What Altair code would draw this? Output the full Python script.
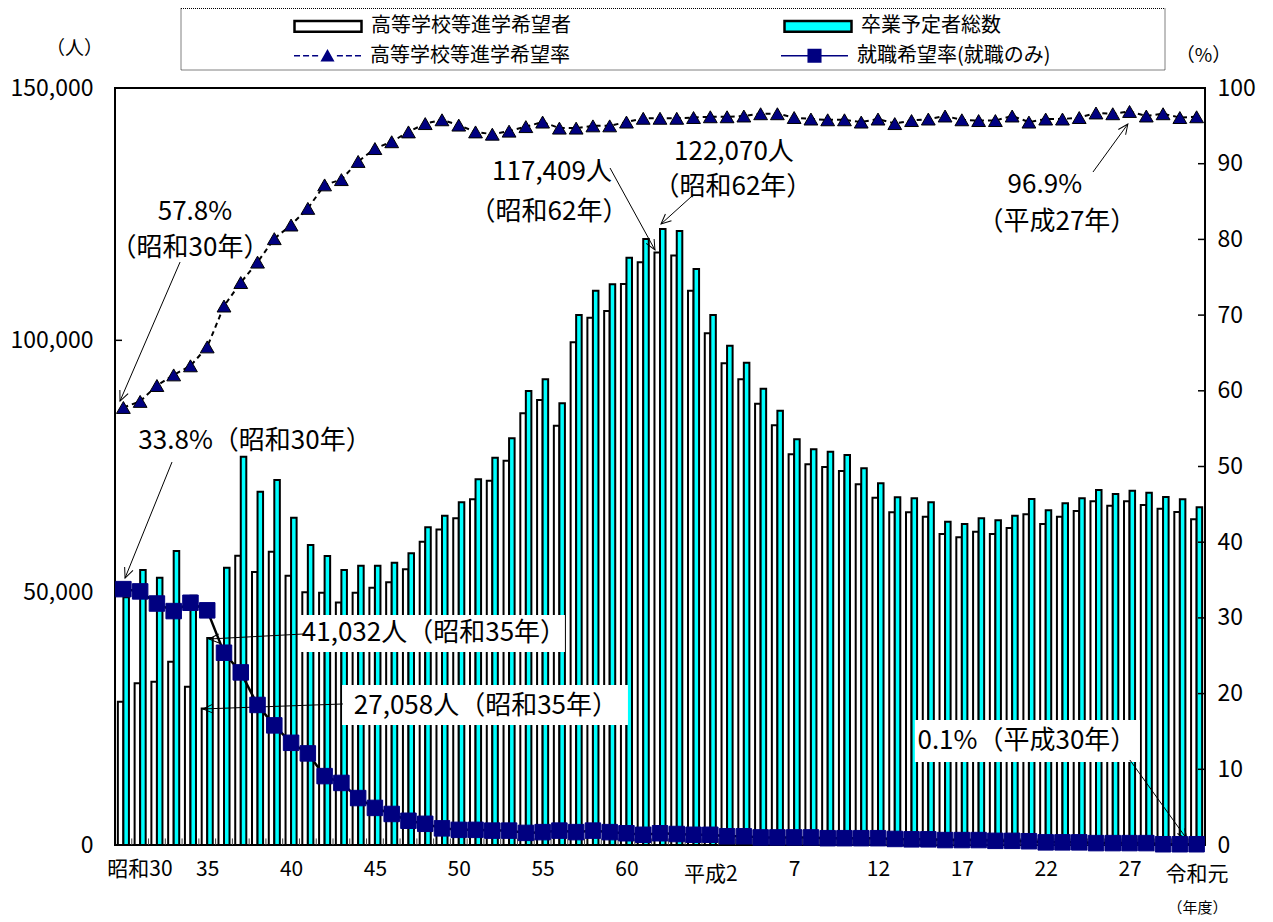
import math
import altair as alt
import pandas as pd

# ---------------- data ----------------
years = list(range(1955, 2020))

hope_counts = [28400, 32040, 32360, 36320, 31370, 27058, 39120, 57330, 54090, 58120,
               53370, 50070, 49990, 48070, 49990, 50980, 52050, 54620, 60100, 62520,
               64740, 68500, 72190, 76150, 85550, 88170, 83060, 99610, 104490, 105810,
               111160, 115460, 117409, 116815, 109840, 101390, 95440, 92280, 87440, 83160,
               77420, 75440, 74900, 74110, 71470, 68810, 65920, 65920, 65050, 61620,
               60970, 62080, 61620, 62820, 65520, 63600, 65050, 66180, 68100, 67230,
               68100, 67370, 66640, 65980, 64540]

grad_totals = [49100, 54490, 52970, 58250, 49400, 41032, 54950, 76940, 70010, 72320,
               64860, 59440, 57270, 54490, 55310, 55350, 55940, 57790, 62950, 65250,
               67910, 72470, 76740, 80580, 89960, 92280, 87520, 105020, 109840, 111100,
               116380, 120070, 122070, 121670, 114130, 105020, 98930, 95570, 90420, 86050,
               80390, 78400, 77940, 77280, 74640, 71670, 68890, 68700, 67910, 64060,
               63600, 64740, 64340, 65250, 68560, 66320, 67710, 68700, 70350, 69550,
               70210, 69810, 68950, 68500, 66920]

hope_rate = [57.8, 58.6, 60.7, 62.1, 63.3, 65.8, 71.2, 74.3, 77.0, 80.1,
             81.9, 84.1, 87.2, 87.9, 90.3, 92.0, 92.9, 94.2, 95.3, 95.8,
             95.1, 94.2, 93.9, 94.3, 94.9, 95.5, 94.7, 94.7, 95.0, 95.0,
             95.5, 96.0, 96.0, 96.0, 96.1, 96.2, 96.2, 96.3, 96.6, 96.6,
             96.1, 95.9, 95.8, 95.8, 95.5, 95.9, 95.3, 95.7, 95.9, 96.3,
             95.8, 95.7, 95.7, 96.3, 95.5, 95.9, 95.9, 96.1, 96.7, 96.6,
             96.9, 96.3, 96.6, 96.1, 96.2]

job_rate = [33.8, 33.5, 31.9, 30.9, 32.0, 31.0, 25.4, 22.8, 18.5, 15.8,
            13.5, 12.1, 9.1, 8.2, 6.2, 4.9, 4.1, 3.2, 2.8, 2.2,
            2.0, 2.0, 1.9, 1.9, 1.6, 1.7, 1.9, 1.7, 1.9, 1.7,
            1.55, 1.35, 1.55, 1.45, 1.35, 1.35, 1.15, 1.15, 1.0, 1.0,
            1.0, 1.0, 0.9, 0.9, 0.9, 0.9, 0.8, 0.75, 0.75, 0.65,
            0.65, 0.65, 0.55, 0.55, 0.5, 0.35, 0.35, 0.35, 0.25, 0.25,
            0.25, 0.25, 0.1, 0.1, 0.1]

tick_years = [1955, 1960, 1965, 1970, 1975, 1980, 1985, 1990, 1995, 2000, 2005, 2010, 2015, 2019]
tick_labels = ["昭和30", "35", "40", "45", "50", "55", "60", "平成2", "7", "12", "17", "22", "27", "令和元"]

left_ticks = [0, 50000, 100000, 150000]
right_ticks = [0, 10, 20, 30, 40, 50, 60, 70, 80, 90, 100]

bar_series = ["高等学校等進学希望者", "卒業予定者総数"]
line_series = ["高等学校等進学希望率", "就職希望率(就職のみ)"]

# annotations (year, percent on right scale)
ann_text = ["57.8%", "（昭和30年）", "33.8%（昭和30年）", "117,409人", "（昭和62年）",
            "122,070人", "（昭和62年）", "96.9%", "（平成27年）",
            "41,032人（昭和35年）", "27,058人（昭和35年）", "0.1%（平成30年）"]
ann_x = [1959.27, 1958.97, 1962.85, 1980.56, 1980.38, 1991.41, 1991.35, 2009.95, 2010.67,
         1973.52, 1976.62, 2008.88]
ann_y = [83.62, 78.86, 53.37, 88.90, 83.62, 91.55, 86.92, 87.19, 82.30, 28.01, 18.36, 13.74]

box_x0 = [1965.53, 1968.04, 2002.20]
box_x1 = [1981.33, 1985.09, 2015.62]
box_y0 = [25.50, 15.85, 10.96]
box_y1 = [30.38, 21.14, 16.51]

arr_x0 = [1958.38, 1957.90, 1984.02, 1988.91, 2012.82, 1965.71, 1968.09, 2015.02]
arr_y0 = [77.01, 50.59, 89.43, 85.73, 88.90, 27.87, 18.63, 11.23]
arr_x1 = [1954.80, 1955.10, 1986.70, 1987.06, 2014.90, 1960.10, 1959.75, 2018.42]
arr_y1 = [58.65, 35.27, 78.60, 82.03, 95.24, 27.21, 17.97, 0.79]

# ---------------- layout ----------------
W, H = 1090, 757
XMIN, XMAX = years[0] - 0.5, years[-1] + 0.5
PX_YEAR = W / (XMAX - XMIN)
PX_PCT = H / 100.0

F_JP = "Noto Sans CJK JP"
F_NUM = "'Liberation Sans Narrow', 'Noto Sans CJK JP', sans-serif"
NAVY = "#000080"

XS = alt.Scale(domain=[XMIN, XMAX], nice=False, zero=False)
YS = alt.Scale(domain=[0, 150000], nice=False)
PS = alt.Scale(domain=[0, 100], nice=False)

label_expr = "".join(f"datum.value == {y} ? '{l}' : " for y, l in zip(tick_years, tick_labels)) + "''"

XAX = alt.Axis(values=tick_years, labelExpr=label_expr, ticks=False, domain=False, grid=False,
               labelFont=F_NUM, labelFontSize=21, labelColor="black",
               labelPadding={"condition": {"test": "datum.value == 1990 || datum.value == 2019", "value": 18},
                             "value": 13},
               labelOffset={"condition": {"test": "datum.value == 1955", "value": 16}, "value": 0},
               labelFlush=False, labelOverlap=False,
               title="（年度）", titleX=1082, titleY=62, titleAlign="center", titleBaseline="middle",
               titleFont=F_JP, titleFontSize=15, titleFontWeight="normal", titleColor="black")

YAX = alt.Axis(values=left_ticks, labelExpr="format(datum.value, ',')", ticks=False, domain=False,
               grid=False, labelFont=F_NUM, labelFontSize=23, labelColor="black", labelPadding=22,
               title="（人）", titleX=-41, titleY=-40, titleAngle=0, titleAlign="center",
               titleBaseline="middle", titleFont=F_JP, titleFontSize=19, titleFontWeight="normal",
               titleColor="black")

PAX = alt.Axis(orient="right", values=right_ticks, ticks=False, domain=False, grid=False,
               labelFont=F_NUM, labelFontSize=23, labelColor="black", labelPadding=12,
               title="（%）", titleX=-2, titleY=-33, titleAngle=0, titleAlign="center",
               titleBaseline="middle", titleFont=F_JP, titleFontSize=19, titleFontWeight="normal",
               titleColor="black")

# ---------------- frames ----------------
bar_df = pd.DataFrame({
    "year": years * 2,
    "series": [bar_series[0]] * len(years) + [bar_series[1]] * len(years),
    "count": hope_counts + grad_totals,
})


def dash_rects(segs, h=0.022):
    return "".join(f"M{a},{-h}H{b}V{h}H{a}Z" for a, b in segs)


BAR_SYMBOL = "M-1,-0.16H1V0.16H-1Z"
TRI_SYMBOL = (dash_rects([(-1, -0.82), (-0.73, -0.55), (-0.46, -0.28),
                          (0.28, 0.46), (0.55, 0.73), (0.82, 1)])
              + "M0,-0.2L0.21,0.17L-0.21,0.17Z")
SQ_SYMBOL = dash_rects([(-1, -0.21), (0.21, 1)]) + "M-0.21,-0.21H0.21V0.21H-0.21Z"
SYM_SIZE = 67 * 67
COL_PAD = 208

bars = alt.Chart(bar_df).transform_calculate(
    x0=f"datum.series == '{bar_series[0]}' ? datum.year - 0.33 : datum.year",
    x1=f"datum.series == '{bar_series[0]}' ? datum.year : datum.year + 0.33",
    zero="0",
).mark_rect(stroke="black", strokeWidth=2).encode(
    x=alt.X("x0:Q", scale=XS, axis=XAX),
    x2="x1:Q",
    y=alt.Y("count:Q", scale=YS, axis=YAX),
    y2="zero:Q",
    fill=alt.Fill("series:N", scale=alt.Scale(domain=bar_series, range=["#ffffff", "#00ffff"]),
                  legend=alt.Legend(orient="none", legendX=178, legendY=-97, direction="horizontal",
                                    title=None, symbolType=BAR_SYMBOL, symbolSize=SYM_SIZE,
                                    symbolStrokeColor="black", symbolStrokeWidth=2.5,
                                    labelFont=F_JP, labelFontSize=20, labelColor="black",
                                    labelOffset=8, columnPadding=COL_PAD, padding=0,
                                    labelLimit=400)),
)

btick_df = pd.DataFrame({"x": [y + 0.5 for y in years[:-1]]})
bottom_ticks = alt.Chart(btick_df).transform_calculate(y0="0", y1="1300").mark_rule(
    color="#444444", strokeWidth=1).encode(
    x=alt.X("x:Q", scale=XS, axis=XAX),
    y=alt.Y("y0:Q", scale=YS, axis=YAX),
    y2="y1:Q",
)

ltick_df = pd.DataFrame({"v": left_ticks})
left_tick_marks = alt.Chart(ltick_df).transform_calculate(
    xa=f"{XMIN}", xb=f"{XMIN + 7 / PX_YEAR}").mark_rule(color="black", strokeWidth=1.5).encode(
    x=alt.X("xa:Q", scale=XS, axis=XAX),
    x2="xb:Q",
    y=alt.Y("v:Q", scale=YS, axis=YAX),
)

rtick_df = pd.DataFrame({"v": right_ticks})
right_tick_marks = alt.Chart(rtick_df).transform_calculate(
    xa=f"{XMAX - 7 / PX_YEAR}", xb=f"{XMAX}").mark_rule(color="black", strokeWidth=1.5).encode(
    x=alt.X("xa:Q", scale=XS, axis=XAX),
    x2="xb:Q",
    y=alt.Y("v:Q", scale=PS, axis=PAX),
)

rate_df = pd.DataFrame({"year": years, "hope": hope_rate, "job": job_rate})

rate_line = alt.Chart(rate_df).mark_line(color="black", strokeWidth=2, strokeDash=[5, 4]).encode(
    x=alt.X("year:Q", scale=XS, axis=XAX), y=alt.Y("hope:Q", scale=PS, axis=PAX))
rate_pts = alt.Chart(rate_df).mark_point(shape="triangle-up", filled=True, color=NAVY, stroke="black",
                                         strokeWidth=1, size=190, opacity=1).encode(
    x=alt.X("year:Q", scale=XS, axis=XAX), y=alt.Y("hope:Q", scale=PS, axis=PAX))
job_line = alt.Chart(rate_df).mark_line(color="black", strokeWidth=2.5).encode(
    x=alt.X("year:Q", scale=XS, axis=XAX), y=alt.Y("job:Q", scale=PS, axis=PAX))
job_pts = alt.Chart(rate_df).mark_point(shape="square", filled=True, color=NAVY, stroke=NAVY,
                                        strokeWidth=1, size=240, opacity=1).encode(
    x=alt.X("year:Q", scale=XS, axis=XAX), y=alt.Y("job:Q", scale=PS, axis=PAX))

box_df = pd.DataFrame({"x0": box_x0, "x1": box_x1, "y0": box_y0, "y1": box_y1})
boxes = alt.Chart(box_df).mark_rect(fill="white", stroke=None).encode(
    x=alt.X("x0:Q", scale=XS, axis=XAX), x2="x1:Q",
    y=alt.Y("y0:Q", scale=PS, axis=PAX), y2="y1:Q")

ann_df = pd.DataFrame({"text": ann_text, "x": ann_x, "y": ann_y})
texts = alt.Chart(ann_df).mark_text(font=F_JP, fontSize=26, color="black", align="center",
                                    baseline="middle").encode(
    x=alt.X("x:Q", scale=XS, axis=XAX), y=alt.Y("y:Q", scale=PS, axis=PAX), text="text:N")

angles = []
for xa, ya, xb, yb in zip(arr_x0, arr_y0, arr_x1, arr_y1):
    dx = (xb - xa) * PX_YEAR
    dy = -(yb - ya) * PX_PCT
    angles.append(math.degrees(math.atan2(dx, -dy)) % 360)
arr_df = pd.DataFrame({"x0": arr_x0, "y0": arr_y0, "x1": arr_x1, "y1": arr_y1, "angle": angles})
arrow_lines = alt.Chart(arr_df).mark_rule(color="black", strokeWidth=1).encode(
    x=alt.X("x0:Q", scale=XS, axis=XAX), x2="x1:Q",
    y=alt.Y("y0:Q", scale=PS, axis=PAX), y2="y1:Q")
arrow_heads = alt.Chart(arr_df).mark_point(shape="M-0.45,1L0,0L0.45,1", filled=False, color="black",
                                           strokeWidth=1, size=400, opacity=1).encode(
    x=alt.X("x1:Q", scale=XS, axis=XAX), y=alt.Y("y1:Q", scale=PS, axis=PAX),
    angle=alt.Angle("angle:Q", scale=None))

leg_df = pd.DataFrame({"legend": line_series})
line_legend = alt.Chart(leg_df).transform_filter("false").mark_point(
    filled=False, color="black", fill=NAVY, strokeWidth=1.5, opacity=1).encode(
    shape=alt.Shape("legend:N", scale=alt.Scale(domain=line_series, range=[TRI_SYMBOL, SQ_SYMBOL]),
                    legend=alt.Legend(orient="none", legendX=178, legendY=-67, direction="horizontal",
                                      title=None, symbolSize=SYM_SIZE, symbolFillColor=NAVY,
                                      symbolStrokeColor="black", symbolStrokeWidth=1.5,
                                      symbolOpacity=1,
                                      labelFont=F_JP, labelFontSize=20, labelColor="black",
                                      labelOffset=8, columnPadding=COL_PAD, padding=0,
                                      labelLimit=400)))

frame_df = pd.DataFrame({"d": [0]})
legend_frame = alt.Chart(frame_df).mark_rect(fill=None, stroke="black", strokeWidth=1,
                                             strokeDash=[1, 1]).encode(
    x=alt.value(66), x2=alt.value(1050), y=alt.value(-79.5), y2=alt.value(-18))

count_group = alt.layer(bottom_ticks, bars, left_tick_marks)
pct_group = alt.layer(right_tick_marks, boxes, texts, arrow_lines, arrow_heads,
                      rate_line, job_line, rate_pts, job_pts, line_legend, legend_frame)

chart = alt.layer(count_group, pct_group).resolve_scale(y="independent").properties(
    width=W, height=H,
    padding={"left": 107, "top": 80, "right": 60, "bottom": 70},
    autosize=alt.AutoSizeParams(type="none"),
    background="white",
).configure_view(stroke="black", strokeWidth=2)

chart.save("out.html", embed_options={"renderer": "svg", "actions": False})
